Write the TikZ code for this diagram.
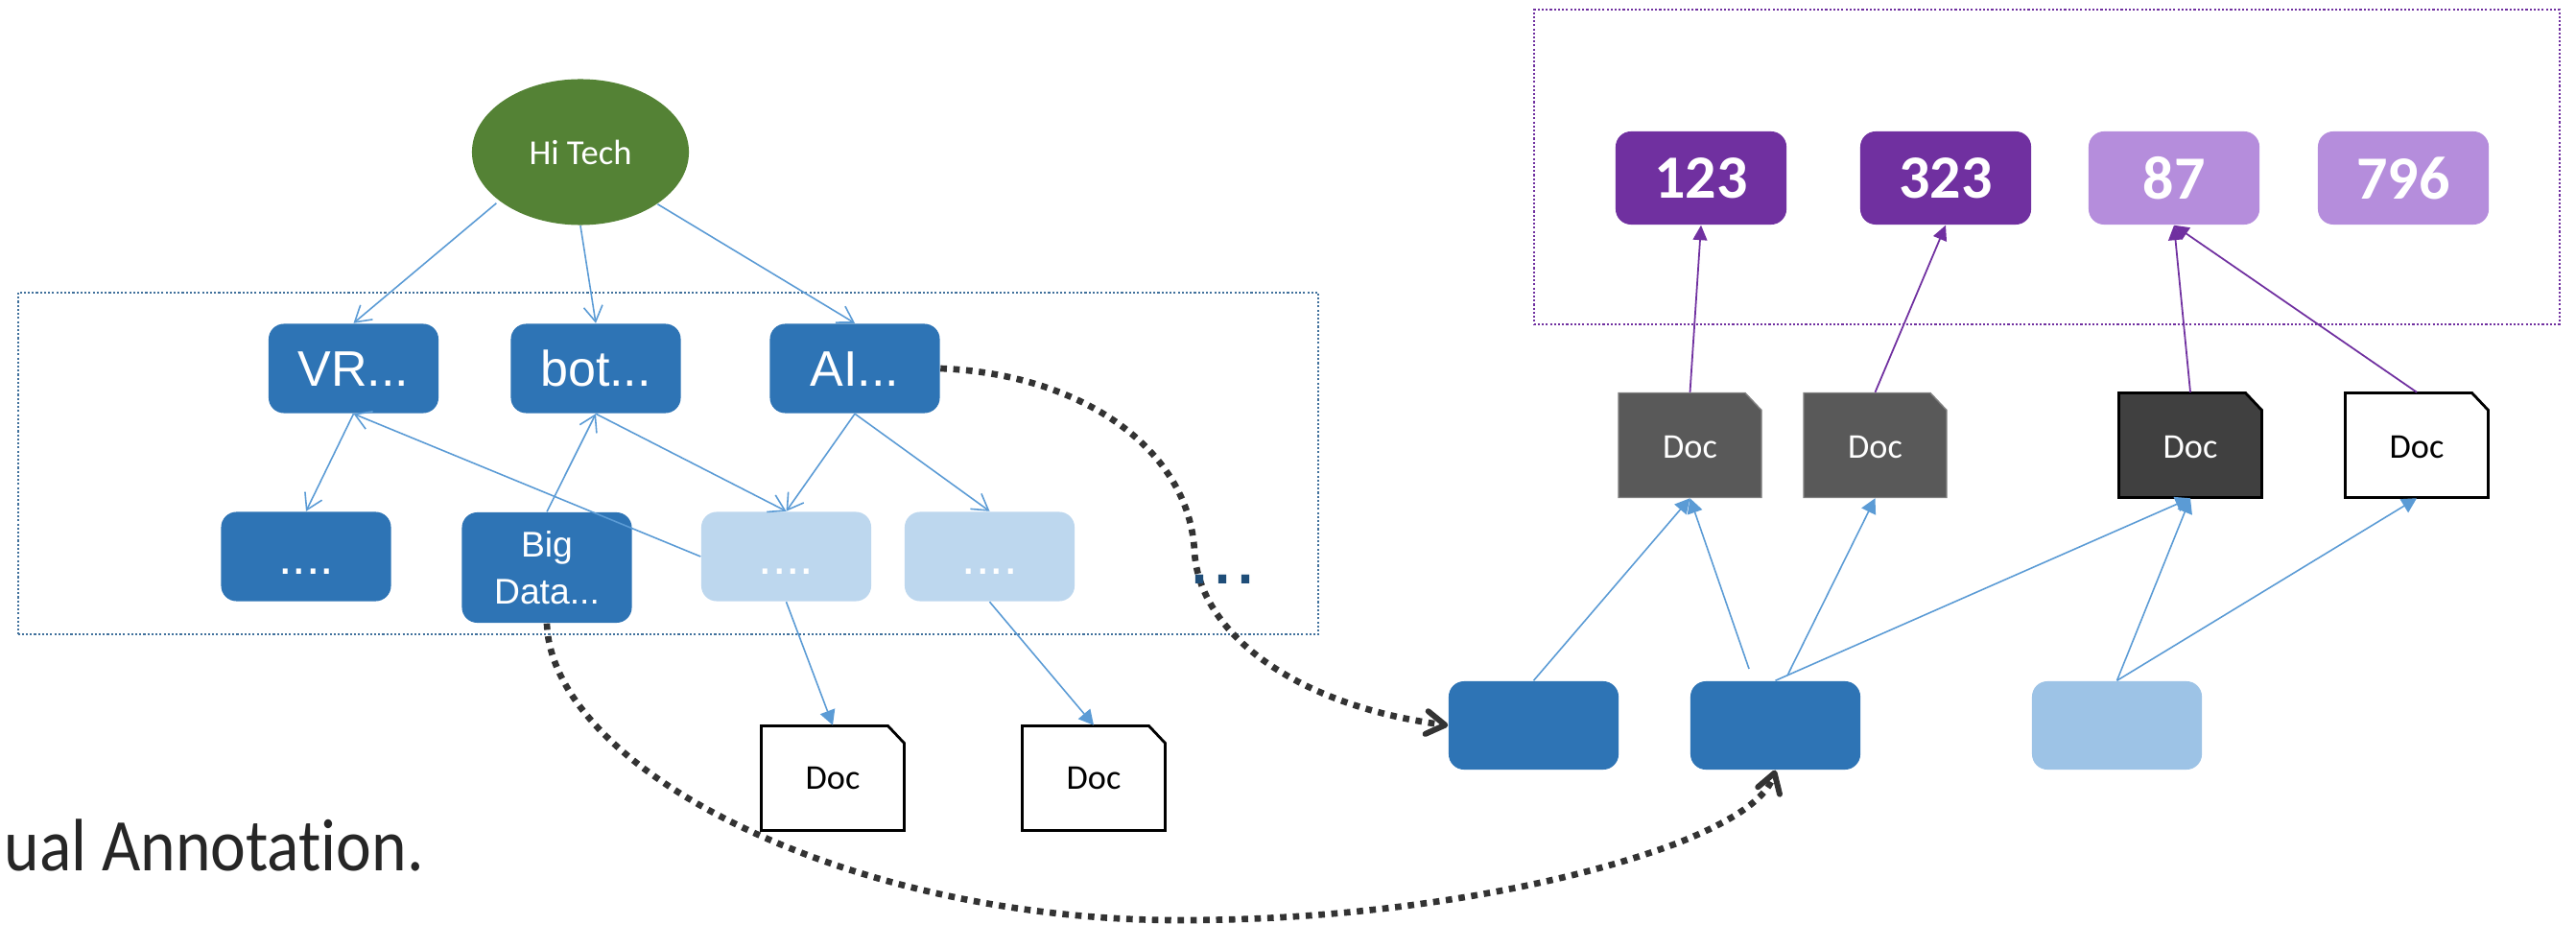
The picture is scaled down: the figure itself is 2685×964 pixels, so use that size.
\documentclass[tikz,border=0pt]{standalone}
\usepackage{fontspec}
\setmainfont{Carlito}
\newfontfamily\arialf{Liberation Sans}
\newfontfamily\handf[Ligatures=NoCommon]{Carlito}
\usetikzlibrary{arrows.meta,shapes.geometric,calc}
\definecolor{bluedark}{HTML}{2E74B5}
\definecolor{bluelight}{HTML}{BDD7EE}
\definecolor{bluemid}{HTML}{9DC3E6}
\definecolor{arrowblue}{HTML}{5B9BD5}
\definecolor{treegreen}{HTML}{548235}
\definecolor{purpledark}{HTML}{7030A0}
\definecolor{purplelight}{HTML}{B58DDC}
\definecolor{dashgray}{HTML}{333333}
\definecolor{framebl}{HTML}{41719C}
\definecolor{dotsblue}{HTML}{1F4E79}
\definecolor{docgray}{HTML}{595959}
\definecolor{docdark}{HTML}{404040}
\tikzset{
  boxbase/.style={rounded corners=0.16cm,minimum width=1.77cm,inner sep=0pt,text=white,align=center},
  topicbox/.style={boxbase,minimum height=0.93cm,font=\arialf\fontsize{14.8}{16}\selectfont,text height=0.36cm,text depth=0cm},
  plainbox/.style={boxbase,minimum height=0.92cm},
  numbox/.style={boxbase,minimum width=1.78cm,minimum height=0.97cm,font=\bfseries\fontsize{18.2}{20}\selectfont},
  doctext/.style={minimum width=1.49cm,minimum height=1.09cm,inner sep=0pt,font=\fontsize{10.3}{12}\selectfont},
  doclow/.style={doctext,text height=0.26cm,text depth=0cm},
  thin blue/.style={draw=arrowblue,line width=0.45pt},
  openarrow/.style={thin blue,-{Straight Barb[length=4.6pt,width=5.6pt]}},
  solidarrow/.style={thin blue,-{Triangle[length=4.4pt,width=4.6pt]}},
  purplearrow/.style={draw=purpledark,line width=0.5pt,-{Triangle[length=4.4pt,width=4.2pt]}},
  dashcurve/.style={draw=dashgray,line width=1.9pt,dash pattern=on 1.9pt off 1.9pt,
    -{Straight Barb[length=5.5pt,width=6.8pt,line width=1.7pt,round]}},
  frame/.style={line width=0.6pt,dash pattern=on 0.6pt off 0.6pt,inner sep=0pt},
}
\newcommand{\docnode}[6]{% name, x, y, fill, border, options
  \draw[fill=#4,draw=#5,#6,shift={(#2,#3)}] (-74.5,-54.5) -- (57.5,-54.5) -- (74.5,-36.5) -- (74.5,54.5) -- (-74.5,54.5) -- cycle;
}
\begin{document}
\begin{tikzpicture}[x=0.01cm,y=-0.01cm]
\useasboundingbox (0,0) rectangle (2685,964);

% frames
\node[frame,draw=framebl,minimum width=13.55cm,minimum height=3.56cm] (topicframe) at (696.5,483) {};
\node[frame,draw=purpledark,minimum width=10.69cm,minimum height=3.27cm] (labelframe) at (2133.5,174) {};

% tree
\node[ellipse,fill=treegreen,minimum width=2.26cm,minimum height=1.52cm,inner sep=0pt,text=white,font=\fontsize{10.4}{12}\selectfont] (hi) at (605,158.5) {Hi Tech};
\node[topicbox,fill=bluedark] (vr) at (368.5,384) {VR...};
\node[topicbox,fill=bluedark] (bot) at (621,384) {bot...};
\node[topicbox,fill=bluedark] (ai) at (891,384) {AI...};
\node[topicbox,fill=bluedark] (da) at (319,580) {....};
\node[boxbase,fill=bluedark,minimum height=1.15cm,font=\arialf\fontsize{10.6}{14}\selectfont] (bd) at (570,591.5) {Big\\Data...};
\node[topicbox,fill=bluelight] (la) at (819.5,580) {....};
\node[topicbox,fill=bluelight] (lb) at (1031.5,580) {....};

% left docs
\docnode{da1}{868}{811}{white}{black}{line width=0.8pt}
\node[doctext] (docl1) at (868,811) {Doc};
\docnode{da2}{1140}{811}{white}{black}{line width=0.8pt}
\node[doctext] (docl2) at (1140,811) {Doc};

% right bottom row
\node[plainbox,fill=bluedark] (ba) at (1598.5,756) {};
\node[plainbox,fill=bluedark] (bb) at (1850.5,756) {};
\node[plainbox,fill=bluemid] (bc) at (2206.5,756) {};

% right docs
\docnode{a}{1761.5}{464}{docgray}{gray}{line width=0.4pt}
\node[doclow,text=white] (doca) at (1761.5,464) {Doc};
\docnode{b}{1954.5}{464}{docgray}{gray}{line width=0.4pt}
\node[doclow,text=white] (docb) at (1954.5,464) {Doc};
\docnode{c}{2283}{464}{docdark}{black}{line width=0.8pt}
\node[doclow,text=white] (docc) at (2283,464) {Doc};
\docnode{d}{2519}{464}{white}{black}{line width=0.8pt}
\node[doclow] (docd) at (2519,464) {Doc};

% numbers
\node[numbox,fill=purpledark] (na) at (1773,185.5) {123};
\node[numbox,fill=purpledark] (nb) at (2028,185.5) {323};
\node[numbox,fill=purplelight] (nc) at (2266,185.5) {87};
\node[numbox,fill=purplelight] (nd) at (2505,185.5) {796};

% tree connectors
\draw[openarrow,shorten <=1pt] (hi.211) -- (vr.north);
\draw[openarrow] (hi.south) -- (bot.north);
\draw[openarrow] (hi.-34) -- (ai.north);
\draw[openarrow] (vr.south) -- (da.north);
\draw[openarrow] (bd.north) -- (bot.south);
\draw[openarrow] (la.west) -- (vr.south);
\draw[openarrow] (bot.south) -- (la.north);
\draw[openarrow] (ai.south) -- (la.north);
\draw[openarrow] (ai.south) -- (lb.north);
\draw[solidarrow] (la.south) -- (docl1.north);
\draw[solidarrow] (lb.south) -- (docl2.north);

% right connectors
\coordinate (stub) at (1823,697);
\coordinate (join) at (1863,704);
\draw[solidarrow] (ba.north) -- (doca.south);
\draw[solidarrow] (stub) -- (doca.south);
\draw[solidarrow] (join) -- (docb.south);
\draw[solidarrow] (bb.north) -- (docc.south);
\draw[solidarrow] (bc.north) -- (docc.south);
\draw[solidarrow] (bc.north) -- (docd.south);
\draw[purplearrow] (doca.north) -- (na.south);
\draw[purplearrow] (docb.north) -- (nb.south);
\draw[purplearrow] (docc.north) -- (nc.south);
\draw[purplearrow] (docd.north) -- (nc.south);

% dotted curves
\coordinate (midA) at (1245,575);
\coordinate (midB) at (1230,959);
\coordinate (midC) at (1750,878);
\draw[dashcurve] (ai.east) .. controls (1130,390) and (1240,470) .. (midA)
   .. controls (1250,660) and (1350,735) .. (ba.west);
\draw[dashcurve] (bd.south) .. controls (575,800) and (880,959) .. (midB)
   .. controls (1450,959) and (1640,920) .. (midC)
   .. controls (1800,858) and (1840,835) .. (bb.south);

% free text
\node[anchor=base,inner sep=0pt,text=dotsblue,font=\arialf\fontsize{24.6}{26}\selectfont] (more) at (1274.5,608.6) {...};
\node[anchor=base west,inner sep=0pt,text=black!85,xscale=0.9,transform shape,font=\handf\fontsize{22}{24}\selectfont] (caption) at (4,907) {ual Annotation.};
\end{tikzpicture}
\end{document}
